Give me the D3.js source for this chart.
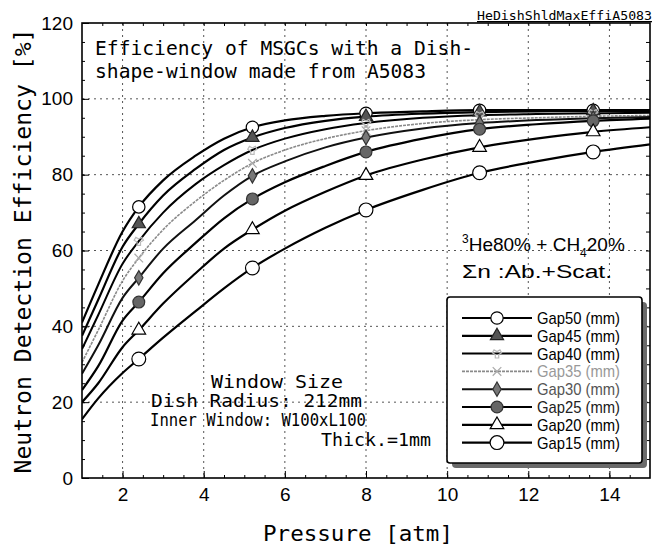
<!DOCTYPE html>
<html lang="en">
<head>
<meta charset="UTF-8">
<title>Efficiency of MSGCs with a Dish-shape-window</title>
<script src="https://d3js.org/d3.v7.min.js"></script>
<style>
  body { margin: 0; background: #fff; }
  .mono { font-family: "DejaVu Sans Mono", monospace; }
  .sans { font-family: "Liberation Sans", Arial, sans-serif; }
</style>
</head>
<body>
<svg width="653" height="546"></svg>
<script>
// pressure [atm] where the curves were read
const pressure = [1, 1.4, 2, 2.4, 3, 3.8, 4.5, 5.2, 6, 7, 8, 9.4, 10.8, 12.2, 13.6, 15];
// efficiency [%] for each gap
const gap50 = [41, 51, 65, 71.5, 78.5, 85, 89.5, 92.5, 94.3, 95.5, 96.2, 96.7, 97, 97, 97, 97];
const gap45 = [37.5, 47, 61, 67, 74.5, 81.5, 86.5, 89.8, 92.3, 94.2, 95.3, 96.1, 96.5, 96.7, 96.8, 96.8];
const gap40 = [34, 43, 56.5, 62.5, 70, 77.5, 82.5, 86.5, 89.5, 92, 93.6, 95, 95.7, 96, 96.2, 96.3];
const gap35 = [30.5, 39, 52, 58, 65.5, 73, 78.5, 83, 86.5, 89.5, 91.6, 93.5, 94.5, 95, 95.4, 95.6];
const gap30 = [27.5, 35, 47.5, 52.8, 60.5, 68, 74.5, 79.7, 83.5, 87.2, 89.8, 92.2, 93.6, 94.4, 94.9, 95.2];
const gap25 = [23.2, 29.5, 41.5, 46.4, 54, 62, 68.5, 73.6, 78, 82.3, 86, 89.5, 92, 93.3, 94.2, 94.8];
const gap20 = [20, 25, 34.5, 39, 46, 54, 60.5, 65.5, 70.5, 75.5, 79.8, 84, 87.2, 89.5, 91.3, 92.5];
const gap15 = [15.5, 21, 27.7, 31.4, 37, 44, 50, 55.4, 60.5, 66, 70.7, 76, 80.5, 83.5, 86, 88];
const seriesNames = ["Gap50", "Gap45", "Gap40", "Gap35", "Gap30", "Gap25", "Gap20", "Gap15"];
const seriesValues = [gap50, gap45, gap40, gap35, gap30, gap25, gap20, gap15];
const markerPressure = [2.4, 5.2, 8, 10.8, 13.6];
const xTicks = [2, 4, 6, 8, 10, 12, 14];
const yTicks = [0, 20, 40, 60, 80, 100, 120];

// look of each series (same order as seriesNames)
const styles = [
  { line: "#000", w: 2.2, sym: d3.symbolCircle, size: 120, fill: "#fff", stroke: "#000", text: "#000" },
  { line: "#000", w: 2.2, sym: d3.symbolTriangle, size: 75, fill: "#555", stroke: "#222", text: "#000" },
  { line: "#000", w: 2, sym: d3.symbolWye, size: 40, fill: "none", stroke: "#bbb", text: "#000" },
  { line: "#8a8a8a", w: 1.6, sym: d3.symbolTimes, size: 50, fill: "none", stroke: "#aaa", text: "#999", dash: "3,1" },
  { line: "#111", w: 2, sym: d3.symbolDiamond, size: 60, fill: "#777", stroke: "#333", text: "#555" },
  { line: "#000", w: 2.2, sym: d3.symbolCircle, size: 110, fill: "#666", stroke: "#333", text: "#222" },
  { line: "#000", w: 2.2, sym: d3.symbolTriangle, size: 80, fill: "#fff", stroke: "#000", text: "#000" },
  { line: "#000", w: 2.2, sym: d3.symbolCircle, size: 150, fill: "#fff", stroke: "#000", text: "#000" }
];

const svg = d3.select("svg");
const m = { left: 82, right: 650, top: 23, bottom: 478 };
const x = d3.scaleLinear().domain([1, 15]).range([m.left, m.right]);
const y = d3.scaleLinear().domain([0, 120]).range([m.bottom, m.top]);

// dotted grid
const grid = svg.append("g").attr("stroke", "#555").attr("stroke-width", 1).attr("stroke-dasharray", "2,4");
grid.selectAll(".gx").data(xTicks).enter().append("line")
  .attr("x1", d => x(d)).attr("x2", d => x(d)).attr("y1", m.top).attr("y2", m.bottom);
grid.selectAll(".gy").data(yTicks.slice(1, -1)).enter().append("line")
  .attr("y1", d => y(d)).attr("y2", d => y(d)).attr("x1", m.left).attr("x2", m.right);

// axes with inward ticks
function styleAxis(g, labels) {
  g.select(".domain").remove();
  g.selectAll(".tick line").attr("stroke", "#000");
  if (!labels) g.selectAll(".tick text").remove();
  else g.selectAll(".tick text").attr("class", "sans").attr("font-size", 19).attr("fill", "#000");
}
svg.append("g").attr("transform", `translate(0,${m.bottom})`)
  .call(d3.axisBottom(x).tickValues(xTicks).tickSize(-7).tickPadding(10).tickFormat(d3.format("d")))
  .call(g => styleAxis(g, true));
svg.append("g").attr("transform", `translate(0,${m.bottom})`)
  .call(d3.axisBottom(x).tickValues(d3.range(1.5, 15, 0.5)).tickSize(-3))
  .call(g => styleAxis(g, false));
svg.append("g").attr("transform", `translate(0,${m.top})`)
  .call(d3.axisTop(x).tickValues(d3.range(1.5, 15, 0.5)).tickSize(-3))
  .call(g => styleAxis(g, false));
svg.append("g").attr("transform", `translate(${m.left},0)`)
  .call(d3.axisLeft(y).tickValues(yTicks).tickSize(-7).tickPadding(9).tickFormat(d3.format("d")))
  .call(g => styleAxis(g, true));
svg.append("g").attr("transform", `translate(${m.left},0)`)
  .call(d3.axisLeft(y).tickValues(d3.range(5, 120, 5)).tickSize(-3))
  .call(g => styleAxis(g, false));
svg.append("g").attr("transform", `translate(${m.right},0)`)
  .call(d3.axisRight(y).tickValues(d3.range(5, 120, 5)).tickSize(-4))
  .call(g => styleAxis(g, false));

// clip
svg.append("clipPath").attr("id", "clip").append("rect")
  .attr("x", m.left).attr("y", m.top).attr("width", m.right - m.left).attr("height", m.bottom - m.top);

// curves
const line = d3.line().x(d => x(d[0])).y(d => y(d[1])).curve(d3.curveMonotoneX);
const plot = svg.append("g").attr("clip-path", "url(#clip)");
seriesValues.forEach((vals, i) => {
  const st = styles[i];
  const pts = pressure.map((p, k) => [p, vals[k]]);
  plot.append("path").attr("d", line(pts)).attr("fill", "none")
    .attr("stroke", st.line).attr("stroke-width", st.w)
    .attr("stroke-dasharray", st.dash || null);
});
// markers on top
seriesValues.forEach((vals, i) => {
  const st = styles[i];
  const pts = pressure.map((p, k) => [p, vals[k]]).filter(d => markerPressure.includes(d[0]));
  plot.selectAll(null).data(pts).enter().append("path")
    .attr("d", d3.symbol().type(st.sym).size(st.size))
    .attr("transform", d => `translate(${x(d[0])},${y(d[1])})`)
    .attr("fill", st.fill).attr("stroke", st.stroke).attr("stroke-width", 1.2);
});

// frame
svg.append("rect").attr("x", m.left).attr("y", m.top)
  .attr("width", m.right - m.left).attr("height", m.bottom - m.top)
  .attr("fill", "none").attr("stroke", "#000").attr("stroke-width", 1.6);

// axis titles
svg.append("text").attr("class", "mono").attr("font-size", 22)
  .attr("x", 263).attr("y", 541).attr("textLength", 190).attr("lengthAdjust", "spacingAndGlyphs")
  .text("Pressure [atm]");
svg.append("text").attr("class", "mono").attr("font-size", 23)
  .attr("transform", "translate(31,251) rotate(-90)").attr("text-anchor", "middle")
  .attr("textLength", 445).attr("lengthAdjust", "spacingAndGlyphs")
  .text("Neutron Detection Efficiency [%]");

// file tag
svg.append("text").attr("class", "mono").attr("font-size", 13)
  .attr("x", 477).attr("y", 20).attr("textLength", 175).attr("lengthAdjust", "spacingAndGlyphs")
  .attr("text-decoration", "underline").text("HeDishShldMaxEffiA5083");

// annotations
const notes = [
  { t: "Efficiency of MSGCs with a Dish-", x: 95, y: 55, len: 378, fs: 19 },
  { t: "shape-window made from A5083", x: 95, y: 78, len: 331, fs: 19 },
  { t: "Window Size", x: 211, y: 388, len: 132, fs: 17 },
  { t: "Dish Radius: 212mm", x: 151, y: 407, len: 211, fs: 17 },
  { t: "Inner Window: W100xL100", x: 150, y: 426, len: 216, fs: 17 },
  { t: "Thick.=1mm", x: 321, y: 446, len: 110, fs: 17 }
];
notes.forEach(n => {
  svg.append("text").attr("class", "mono").attr("font-size", n.fs)
    .attr("x", n.x).attr("y", n.y).attr("textLength", n.len).attr("lengthAdjust", "spacingAndGlyphs")
    .attr("fill", "#000").text(n.t);
});

const gas = svg.append("text").attr("class", "sans").attr("font-size", 19).attr("x", 462).attr("y", 251);
gas.append("tspan").attr("font-size", 12).attr("dy", -8).text("3");
gas.append("tspan").attr("dy", 8).text("He80% + CH");
gas.append("tspan").attr("font-size", 12).attr("dy", 6).text("4");
gas.append("tspan").attr("dy", -6).text("20%");
svg.append("text").attr("class", "sans").attr("font-size", 18)
  .attr("x", 462).attr("y", 278).attr("textLength", 150).attr("lengthAdjust", "spacingAndGlyphs")
  .text("Σn :Ab.+Scat.");

// legend
const lg = { x: 447, y: 297, w: 195, h: 166 };
svg.append("rect").attr("x", lg.x + 5).attr("y", lg.y + 5).attr("width", lg.w).attr("height", lg.h)
  .attr("rx", 4).attr("fill", "#6a6a6a");
svg.append("rect").attr("x", lg.x).attr("y", lg.y).attr("width", lg.w).attr("height", lg.h)
  .attr("rx", 3).attr("fill", "#fff").attr("stroke", "#000").attr("stroke-width", 1.6);
const rows = svg.append("g").selectAll("g").data(seriesNames).enter().append("g")
  .attr("transform", (d, i) => `translate(0,${318 + i * 17.8})`);
rows.append("line").attr("x1", 462).attr("x2", 532)
  .attr("stroke", (d, i) => styles[i].line).attr("stroke-width", (d, i) => styles[i].w)
  .attr("stroke-dasharray", (d, i) => styles[i].dash || null);
rows.append("path")
  .attr("d", (d, i) => d3.symbol().type(styles[i].sym).size(styles[i].size)())
  .attr("transform", "translate(497,0)")
  .attr("fill", (d, i) => styles[i].fill).attr("stroke", (d, i) => styles[i].stroke).attr("stroke-width", 1.2);
rows.append("text").attr("class", "sans").attr("font-size", 17)
  .attr("x", 537).attr("y", 6).attr("textLength", 83).attr("lengthAdjust", "spacingAndGlyphs")
  .attr("fill", (d, i) => styles[i].text)
  .text(d => d + " (mm)");
</script>
</body>
</html>
